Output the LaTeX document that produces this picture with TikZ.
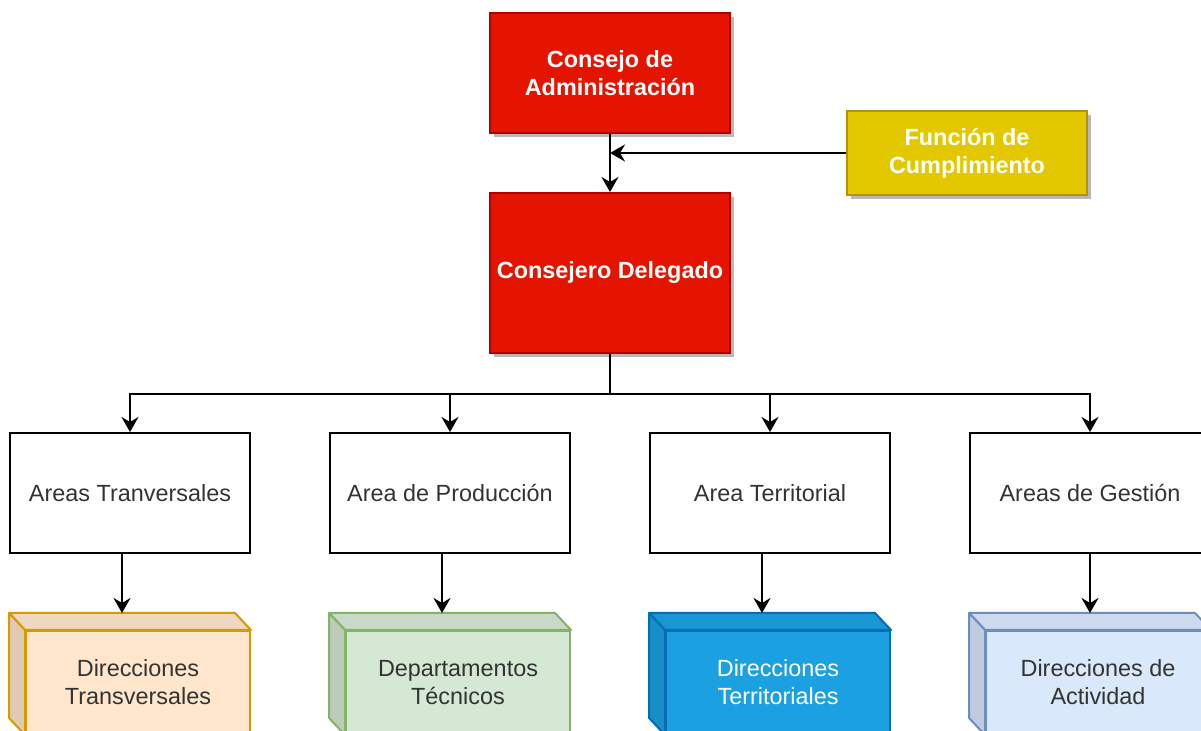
\documentclass[tikz,border=0pt]{standalone}
\usepackage{fontspec}
\setmainfont{Liberation Sans}
\usetikzlibrary{arrows.meta,shadows}

\definecolor{redfill}{HTML}{E51400}
\definecolor{redline}{HTML}{B20000}
\definecolor{yelfill}{HTML}{E3C800}
\definecolor{yelline}{HTML}{B09500}
\definecolor{orafill}{HTML}{FFE6CC}
\definecolor{oraline}{HTML}{D79B00}
\definecolor{grefill}{HTML}{D5E8D4}
\definecolor{greline}{HTML}{82B366}
\definecolor{blufill}{HTML}{1BA1E2}
\definecolor{bluline}{HTML}{006EAF}
\definecolor{lblfill}{HTML}{DAE8FC}
\definecolor{lblline}{HTML}{6C8EBF}
\definecolor{txt}{HTML}{333333}

\newcommand{\orgfont}{\fontsize{11.7}{14}\selectfont}

\begin{document}
\begin{tikzpicture}[x=1pt,y=1pt,font=\orgfont]
        \tikzstyle{box}=[rectangle,draw,line width=1pt,minimum width=120pt,minimum height=60pt,inner sep=2pt,align=center,text=txt]
        \tikzstyle{boss}=[box,draw=redline,fill=redfill,text=white,font=\orgfont\bfseries,drop shadow={shadow xshift=2pt,shadow yshift=-2pt,fill=black!28,opacity=1}]
        \tikzstyle{check}=[boss,draw=yelline,fill=yelfill,minimum height=42pt]
        \tikzstyle{front}=[box,minimum width=112pt,minimum height=51.5pt]
        \tikzstyle{link}=[line width=1pt,-{Stealth[length=7.5pt,width=8.5pt,inset=2.5pt]}]
        \useasboundingbox (0,0) rectangle (600.5,-365.5);
        % top of the chart
        \node [boss] (cadm) at (305,-36.5) {Consejo de\\Administración};
        \node [check] (fcum) at (483.5,-76.5) {Función de\\Cumplimiento};
        \node [boss,minimum height=80pt] (cdel) at (305,-136.5) {\raisebox{-1.5pt}{Consejero Delegado}};
        \draw [link] (cadm.south) -- (cdel.north);
        \draw [link] (fcum.west) -- (fcum.west -| cadm.south);
        % areas
        \node [box] (atrans) at (65,-246.5) {Areas Tranversales};
        \node [box] (aprod) at (225,-246.5) {Area de Producción};
        \node [box] (aterr) at (385,-246.5) {Area Territorial};
        \node [box] (agest) at (545,-246.5) {Areas de Gestión};
        \coordinate (bus) at (305,-197);
        \foreach \a in {atrans,aprod,aterr,agest}
            \draw [link] (cdel.south) -- (bus) -| (\a.north);
        % cubes
        \node [front,draw=oraline,fill=orafill] (dtrans) at (69,-341.25) {Direcciones\\Transversales};
        \node [front,draw=greline,fill=grefill] (dtec) at (229,-341.25) {Departamentos\\Técnicos};
        \node [front,draw=bluline,fill=blufill,text=white] (dterr) at (389,-341.25) {Direcciones\\Territoriales};
        \node [front,draw=lblline,fill=lblfill] (dact) at (549,-341.25) {Direcciones de\\Actividad};
        \foreach \n/\f/\l in {dtrans/orafill/oraline,dtec/grefill/greline,dterr/blufill/bluline,dact/lblfill/lblline} {
            \draw [draw=\l,fill=\f!94!black,line width=1pt,line join=round] (\n.north west) -- (\n.north east) -- ++(-8,8.5) -- ([shift={(-8,8.5)}]\n.north west) -- cycle;
            \draw [draw=\l,fill=\f!88!black,line width=1pt,line join=round] (\n.north west) -- ++(-8,8.5) -- ([shift={(-8,8.5)}]\n.south west) -- (\n.south west) -- cycle;
            \coordinate (top\n) at ([shift={(-8,8.5)}]\n.north);
        }
        \draw [link] (atrans.south -| topdtrans) -- (topdtrans);
        \draw [link] (aprod.south -| topdtec) -- (topdtec);
        \draw [link] (aterr.south -| topdterr) -- (topdterr);
        \draw [link] (agest.south) -- (agest.south |- topdact);
\end{tikzpicture}
\end{document}
